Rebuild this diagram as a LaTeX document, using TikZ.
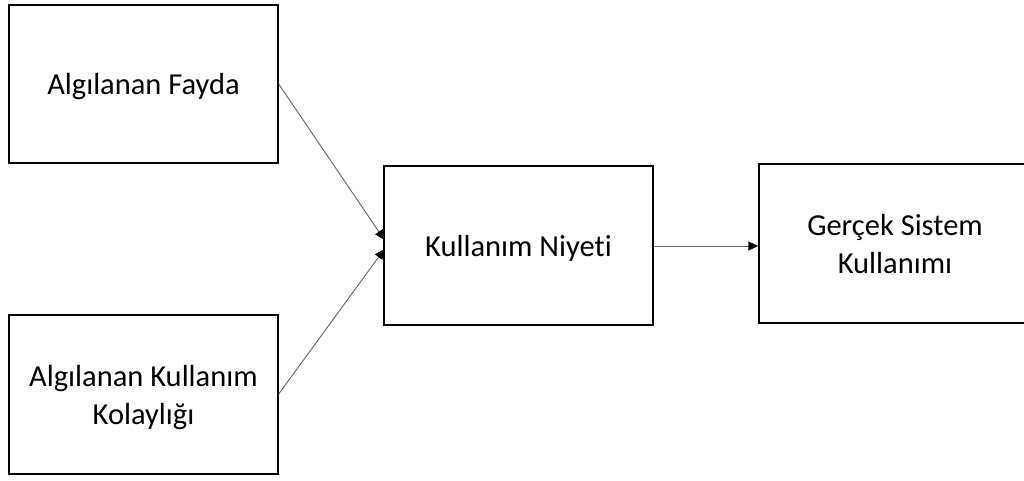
\documentclass[tikz,border=0pt]{standalone}
\usepackage{fontspec}
\setmainfont[Ligatures=NoCommon]{Carlito}
\usetikzlibrary{arrows.meta}
\begin{document}
\begin{tikzpicture}[x=1pt,y=-1pt,
  box/.style={draw=black,line width=1.4pt,minimum width=269pt,align=center,inner sep=0pt,
    text depth=0pt,font=\fontsize{30.5}{38}\selectfont},
  conn/.style={draw=black!60,line width=0.9pt,-{Triangle[length=10pt,width=9pt,fill=black,color=black]}}]
\clip (0,0) rectangle (1024,480);
\fill[white] (0,0) rectangle (1024,480);
\node[box,minimum height=158pt] (pf) at (143.5,84) {Algılanan Fayda};
\node[box,minimum height=159pt] (pk) at (143.5,394.5) {Algılanan Kullanım\\Kolaylığı};
\node[box,minimum height=159pt] (ni) at (518.5,245.5) {Kullanım Niyeti};
\node[box,minimum height=159pt,minimum width=272pt] (gs) at (895,243.5) {Gerçek Sistem\\Kullanımı};
\coordinate (t1) at (384.5,240);
\coordinate (t2) at (384.5,249);
\draw[conn] (pf.east|-0,84) -- (t1);
\draw[conn] (pk.east|-0,394) -- (t2);
\draw[conn] (ni.east|-0,246) -- (gs.west|-0,246);
\end{tikzpicture}
\end{document}
